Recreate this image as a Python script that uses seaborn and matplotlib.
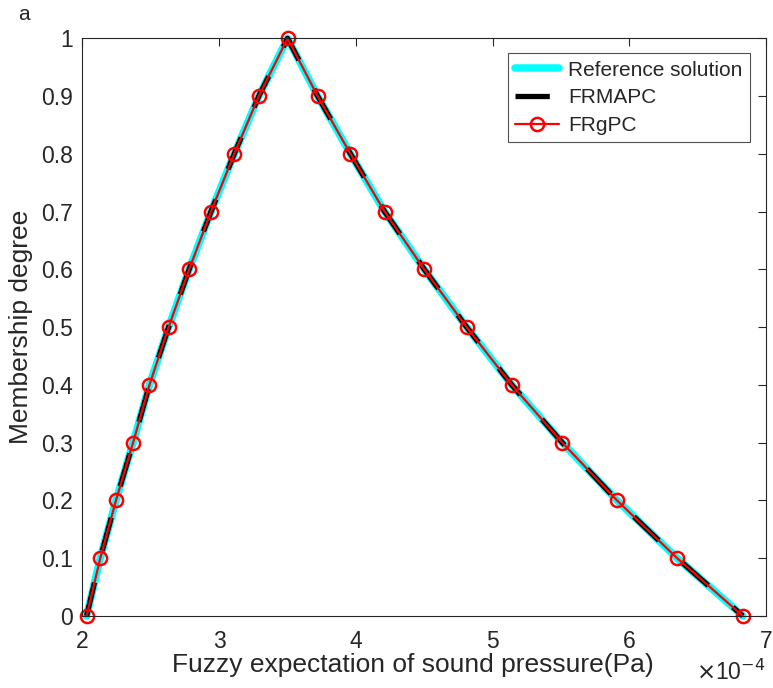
import numpy as np
import pandas as pd
import matplotlib
matplotlib.use("Agg")
import matplotlib.pyplot as plt
import seaborn as sns

# x in units of 1e-4 Pa
membership = [0.0, 0.1, 0.2, 0.3, 0.4, 0.5, 0.6, 0.7, 0.8, 0.9, 1.0,
              0.9, 0.8, 0.7, 0.6, 0.5, 0.4, 0.3, 0.2, 0.1, 0.0]
x_ref = [2.03, 2.13, 2.245, 2.37, 2.49, 2.63, 2.78, 2.94, 3.11, 3.29, 3.50,
         3.72, 3.96, 4.21, 4.50, 4.81, 5.14, 5.51, 5.91, 6.35, 6.83]
x_frmapc = list(x_ref)
x_frgpc = list(x_ref)
series_names = ["Reference solution", "FRMAPC", "FRgPC"]
xticks = [2, 3, 4, 5, 6, 7]
yticks = [0, 0.1, 0.2, 0.3, 0.4, 0.5, 0.6, 0.7, 0.8, 0.9, 1]
ytick_labels = ["0", "0.1", "0.2", "0.3", "0.4", "0.5", "0.6", "0.7", "0.8", "0.9", "1"]

sns.set_style("white")
plt.rcParams['font.family'] = ['Liberation Sans', 'DejaVu Sans']

fig = plt.figure(figsize=(7.73, 6.88), dpi=100)
ax = fig.add_axes([0.1067, 0.1047, 0.8843, 0.8396])

n = len(membership)
df = pd.DataFrame({
    "x": x_ref + x_frmapc + x_frgpc,
    "y": membership * 3,
    "series": [series_names[0]] * n + [series_names[1]] * n + [series_names[2]] * n,
})

sns.lineplot(data=df[df.series == series_names[0]], x="x", y="y", sort=False,
             color="#00ffff", lw=5.4, ax=ax, label=series_names[0], clip_on=False)
sns.lineplot(data=df[df.series == series_names[1]], x="x", y="y", sort=False,
             color="black", lw=3.8, ax=ax, label=series_names[1],
             linestyle=(0, (6.5, 6.2)), clip_on=False)
sns.lineplot(data=df[df.series == series_names[2]], x="x", y="y", sort=False,
             color="red", lw=1.6, ax=ax, label=series_names[2],
             marker="o", markersize=9.5, markerfacecolor="none",
             markeredgecolor="red", markeredgewidth=1.8, clip_on=False)

ax.set_xlim(2, 7)
ax.set_ylim(0, 1)
ax.set_xticks(xticks)
ax.set_xticklabels([str(t) for t in xticks])
ax.set_yticks(yticks)
ax.set_yticklabels(ytick_labels)
ax.tick_params(direction="in", length=6, width=0.8, top=True, right=True,
               labelsize=16.5, colors="#262626")
ax.tick_params(axis="x", pad=10)
ax.tick_params(axis="y", pad=7)
for s in ax.spines.values():
    s.set_color("#262626")
    s.set_linewidth(0.8)
ax.set_xlabel("Fuzzy expectation of sound pressure(Pa)", fontsize=19)
ax.xaxis.set_label_coords(0.483, -0.064, transform=ax.transAxes)
ax.xaxis.label.set_va("top")
ax.set_ylabel("Membership degree", fontsize=19, labelpad=6)
fig.text(765 / 773, 1 - 660 / 688, r"$\times$10$^{-4}$", ha="right",
         va="top", fontsize=16.5, color="#262626")
fig.text(18 / 773, 1 - 14 / 688, "a", fontsize=15, va="center", ha="left")

leg = ax.legend(loc="upper right", bbox_to_anchor=(0.976, 0.974), fontsize=15,
                frameon=True, fancybox=False, edgecolor="#262626",
                handlelength=2.1, borderpad=0.35, labelspacing=0.42,
                handletextpad=0.45, borderaxespad=0)
leg.get_frame().set_linewidth(0.8)

fig.savefig("out.png", dpi=100)
